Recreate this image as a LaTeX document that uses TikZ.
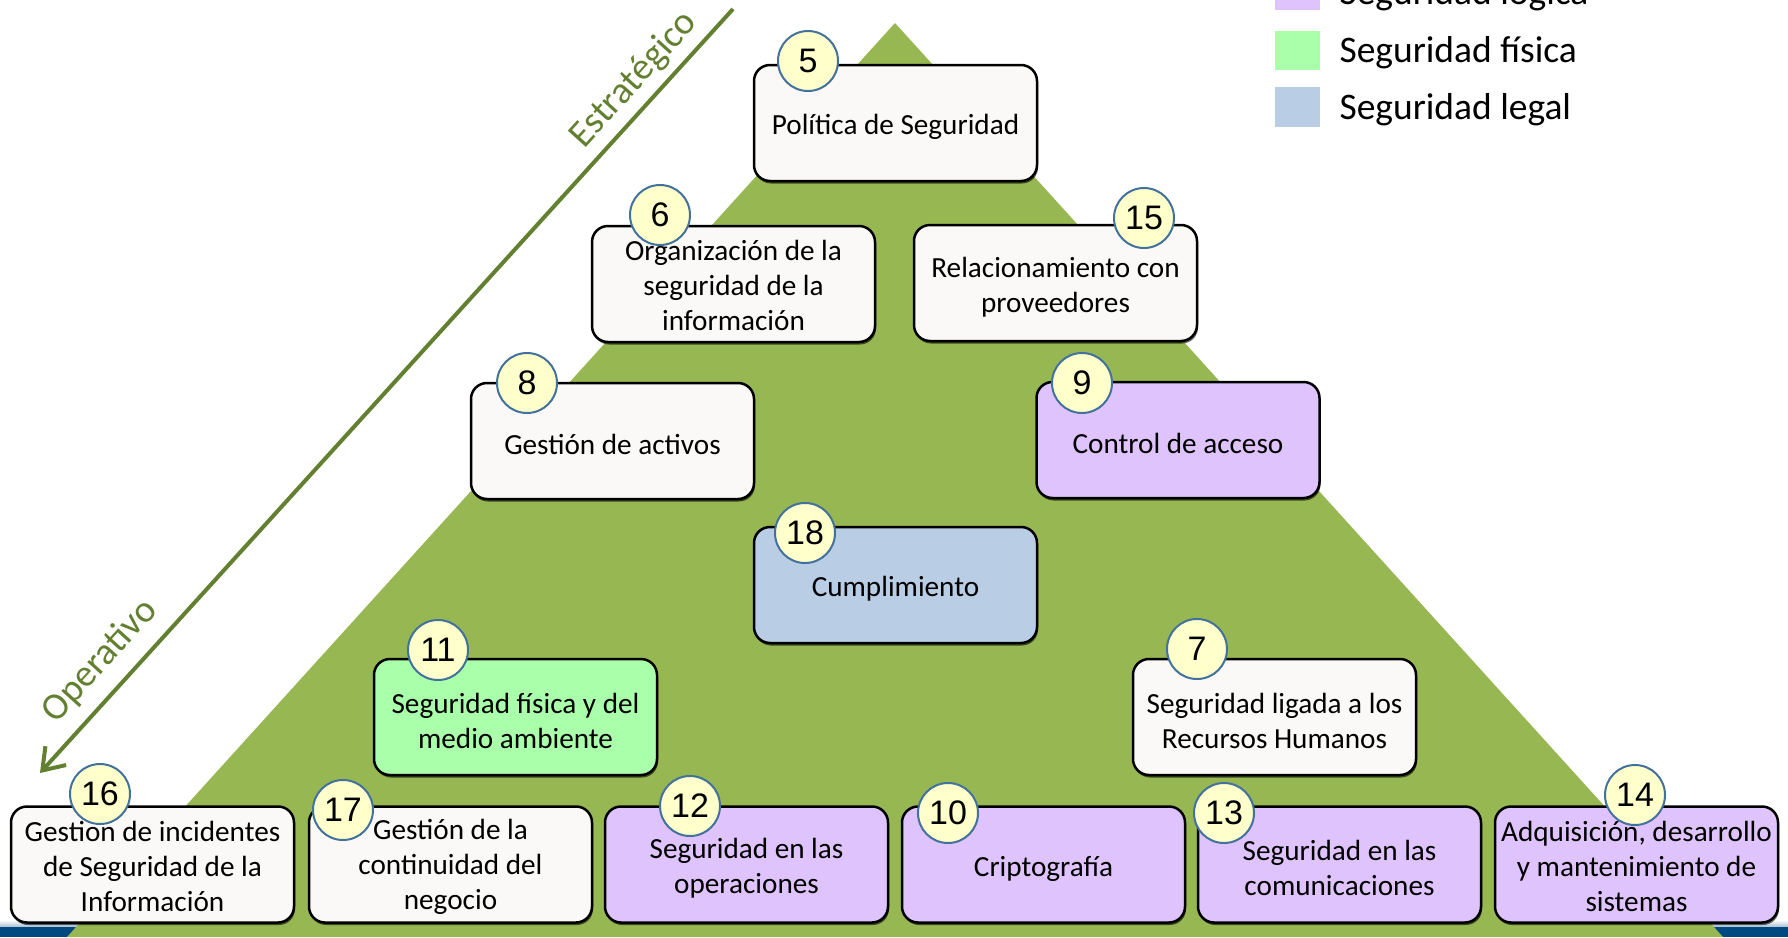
\documentclass[tikz,border=0pt]{standalone}
\usepackage{fontspec}
\setmainfont{Carlito}
\newfontfamily\numfont{Liberation Sans}
\usetikzlibrary{arrows.meta,shadows}
\definecolor{tri}{RGB}{150,183,82}
\definecolor{lav}{RGB}{223,195,252}
\definecolor{lgreen}{RGB}{170,255,170}
\definecolor{lblue}{RGB}{185,205,229}
\definecolor{offw}{RGB}{250,249,247}
\definecolor{cyel}{RGB}{255,255,204}
\definecolor{cbord}{RGB}{65,113,156}
\definecolor{olive}{RGB}{98,128,48}
\definecolor{barblue}{RGB}{0,72,128}
\newcommand\fl{\rule{0pt}{28pt}}
\newcommand\ft{\rule{0pt}{24pt}}
\tikzset{
  box/.style={draw=black, line width=2.5pt, rounded corners=16pt, fill=offw,
    minimum width=283pt, minimum height=116pt, inner sep=0pt, align=center,
    font=\fontsize{29.2}{35}\selectfont,
    drop shadow={shadow xshift=1pt, shadow yshift=-2.5pt, opacity=0.6, fill=black}},
  numc/.style={circle, draw=cbord, line width=2pt, fill=cyel, minimum size=60pt,
    inner sep=0pt, font=\numfont\fontsize{34}{34}\selectfont},
  lvl/.style={text=olive, font=\fontsize{38}{40}\selectfont, rotate=47.8},
  leg/.style={anchor=west, font=\fontsize{37.5}{40}\selectfont},
  arr/.style={draw=olive, line width=4pt, -{Straight Barb[length=20pt,width=28pt]}}
}
\begin{document}
\begin{tikzpicture}[x=1pt,y=-1pt]
\useasboundingbox (0,0) rectangle (1788,937);
% bottom bar
\shade[top color=white, bottom color=barblue!35] (0,920) rectangle (1788,927);
\fill[barblue] (0,927) rectangle (1788,937);
% pyramid
\fill[tri] (895,23) -- (1723,937) -- (67,937) -- cycle;
% legend
\fill[lav] (1275,-30) rectangle (1320,10);
\fill[lgreen] (1275,31) rectangle (1320,70);
\fill[lblue] (1275,87) rectangle (1320,127);
\node[leg] (l1) at (1336,-5) {Seguridad lógica};
\node[leg] (l2) at (1336,53) {Seguridad física};
\node[leg] (l3) at (1336,110) {Seguridad legal};
% arrow
\coordinate (atop) at (733,9);
\coordinate (abot) at (40,773);
\draw[arr] (atop) -- (abot);
\node[lvl] (est) at (634,80) {Estratégico};
\node[lvl] (ope) at (100,661) {Operativo};
% boxes
\node[box] (b5) at (895.5,123) {\fl Política de Seguridad};
\node[box] (b6) at (733.5,284) {\ft Organización de la\\seguridad de la\\información};
\node[box] (b15) at (1055.5,283) {\fl Relacionamiento con\\proveedores};
\node[box] (b8) at (612.5,441) {\fl Gestión de activos};
\node[box, fill=lav] (b9) at (1178,440) {\fl Control de acceso};
\node[box, fill=lblue] (b18) at (895.5,585) {\fl Cumplimiento};
\node[box, fill=lgreen] (b11) at (515.5,717) {\fl Seguridad física y del\\medio ambiente};
\node[box] (b7) at (1274.5,717) {\fl Seguridad ligada a los\\Recursos Humanos};
\node[box] (b16) at (152.5,864.5) {\ft Gestion de incidentes\\de Seguridad de la\\Información};
\node[box] (b17) at (450.5,864.5) {\ft Gestión de la\\continuidad del\\negocio};
\node[box, fill=lav] (b12) at (746.5,864.5) {\fl Seguridad en las\\operaciones};
\node[box, fill=lav] (b10) at (1043.5,864.5) {\fl Criptografía};
\node[box, fill=lav] (b13) at (1339.5,864.5) {\fl Seguridad en las\\comunicaciones};
\node[box, fill=lav] (b14) at (1636.5,864.5) {\ft Adquisición, desarrollo\\y mantenimiento de\\sistemas};
% number circles
\node[numc] (c5) at (808,61) {5};
\node[numc] (c6) at (660,215) {6};
\node[numc] (c15) at (1144,218) {15};
\node[numc] (c8) at (527,383) {8};
\node[numc] (c9) at (1082,383) {9};
\node[numc] (c18) at (805,533) {18};
\node[numc] (c11) at (438,650) {11};
\node[numc] (c7) at (1197,649) {7};
\node[numc] (c16) at (100,794) {16};
\node[numc] (c17) at (343,810) {17};
\node[numc] (c12) at (690,806) {12};
\node[numc] (c10) at (948,813) {10};
\node[numc] (c13) at (1224,813) {13};
\node[numc] (c14) at (1635,795) {14};
\end{tikzpicture}
\end{document}
